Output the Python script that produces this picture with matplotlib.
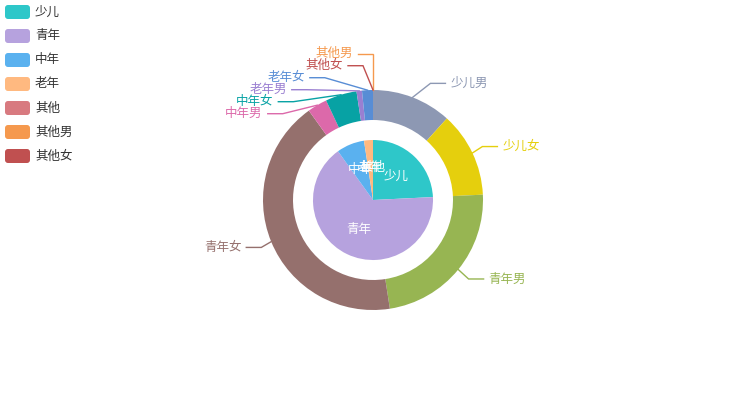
import matplotlib
matplotlib.use("Agg")
import matplotlib.pyplot as plt
from matplotlib.patches import FancyBboxPatch
import numpy as np

plt.rcParams['font.family'] = ['Noto Sans CJK SC', 'DejaVu Sans']

# Data
inner_names = ['少儿', '青年', '中年', '老年', '其他']
inner_values = [242, 658, 75, 24, 0]
outer_names = ['少儿男', '少儿女', '青年男', '青年女', '中年男', '中年女',
               '老年男', '老年女', '其他男', '其他女']
outer_values = [117, 125, 233, 425, 29, 46, 8, 16, 0, 0]
legend_names = ['少儿', '青年', '中年', '老年', '其他', '其他男', '其他女']

# macarons palette
palette = ['#2ec7c9', '#b6a2de', '#5ab1ef', '#ffb980', '#d87a80',
           '#8d98b3', '#e5cf0d', '#97b552', '#95706d', '#dc69aa',
           '#07a2a4', '#9a7fd1', '#588dd5', '#f5994e', '#c05050']
inner_colors = palette[:len(inner_names)]
outer_colors = palette[len(inner_names):len(inner_names) + len(outer_names)]
color_of = dict(zip(inner_names + outer_names, inner_colors + outer_colors))

W, H = 746, 400
cx, cy = W / 2, H / 2
r_in, r0_out, r_out = 60, 80, 110
LEN, LEN2, GAP, TXT_H = 15, 15, 5, 12

fig = plt.figure(figsize=(W / 100, H / 100), dpi=100)
ax = fig.add_axes([0, 0, 1, 1])

# pixel coords, y pointing down -> startangle -90 + counterclock gives clockwise from top
w_in, _ = ax.pie(inner_values, colors=inner_colors, radius=r_in, center=(cx, cy),
                 startangle=-90, counterclock=True, wedgeprops=dict(linewidth=0))
w_out, _ = ax.pie(outer_values, colors=outer_colors, radius=r_out, center=(cx, cy),
                  startangle=-90, counterclock=True,
                  wedgeprops=dict(width=r_out - r0_out, linewidth=0))
ax.set_xlim(0, W)
ax.set_ylim(H, 0)
ax.set_aspect('auto')
ax.axis('off')

# inner labels
for w, name in zip(w_in, inner_names):
    a = np.deg2rad((w.theta1 + w.theta2) / 2)
    ax.text(cx + 33 * np.cos(a), cy + 33 * np.sin(a), name, color='white',
            fontsize=9, ha='center', va='center')

# outer labels, echarts-like layout
labels = []
for w, name in zip(w_out, outer_names):
    a = np.deg2rad((w.theta1 + w.theta2) / 2)
    dx, dy = np.cos(a), np.sin(a)
    side = -1 if dx < 0 else 1
    x2, y2 = cx + (r_out + LEN) * dx, cy + (r_out + LEN) * dy
    labels.append(dict(name=name, side=side, p0=(cx + r_out * dx, cy + r_out * dy),
                       x=x2 + side * (LEN2 + GAP), y=y2, h=TXT_H))


def adjust_side(items, side):
    items.sort(key=lambda d: d['y'])
    n = len(items)

    def shift_up(end, delta):
        for j in range(end, -1, -1):
            if items[j]['y'] - delta < 0:
                break
            items[j]['y'] -= delta
            if j > 0 and items[j]['y'] > items[j - 1]['y'] + items[j - 1]['h']:
                break

    def shift_down(start, end, delta):
        for j in range(start, end):
            if items[j]['y'] + delta > H:
                break
            items[j]['y'] += delta
            if j > start and j + 1 < end and items[j + 1]['y'] > items[j]['y'] + items[j]['h']:
                shift_up(j, delta / 2)
                return
        shift_up(end - 1, delta / 2)

    last_y = 0
    for i in range(n):
        delta = items[i]['y'] - last_y
        if delta < 0:
            shift_down(i, n, -delta)
        last_y = items[i]['y'] + items[i]['h']
    if H - last_y < 0:
        shift_up(n - 1, last_y - H)

    def change_x(lst, is_down):
        last_dx = 1e9 if is_down else 0
        for d in lst:
            ddy = abs(d['y'] - cy)
            if ddy < r_out + LEN:
                ddx = np.sqrt((r_out + LEN + LEN2) ** 2 - ddy ** 2)
            else:
                ddx = abs(d['x'] - cx)
            if is_down and ddx >= last_dx:
                ddx = last_dx - 10
            if not is_down and ddx <= last_dx:
                ddx = last_dx + 10
            d['x'] = cx + ddx * side
            last_dx = ddx

    change_x([d for d in items if d['y'] < cy], False)
    change_x([d for d in items if d['y'] >= cy], True)


for s in (-1, 1):
    adjust_side([d for d in labels if d['side'] == s], s)

for d in labels:
    c = color_of[d['name']]
    x3 = d['x'] - d['side'] * GAP
    x2 = x3 - d['side'] * LEN2
    ax.plot([d['p0'][0], x2, x3], [d['p0'][1], d['y'], d['y']], color=c, lw=1,
            solid_joinstyle='miter')
    ax.text(d['x'], d['y'], d['name'], color=c, fontsize=9, va='center',
            ha='left' if d['side'] > 0 else 'right')

# legend
for i, name in enumerate(legend_names):
    y0 = 5 + 24 * i
    ax.add_patch(FancyBboxPatch((5, y0), 25, 14, boxstyle='round,pad=0,rounding_size=3',
                                fc=color_of[name], ec='none'))
    ax.text(35, y0 + 7, name, color='#333333', fontsize=9, va='center', ha='left')

fig.savefig('out.png', dpi=100)
